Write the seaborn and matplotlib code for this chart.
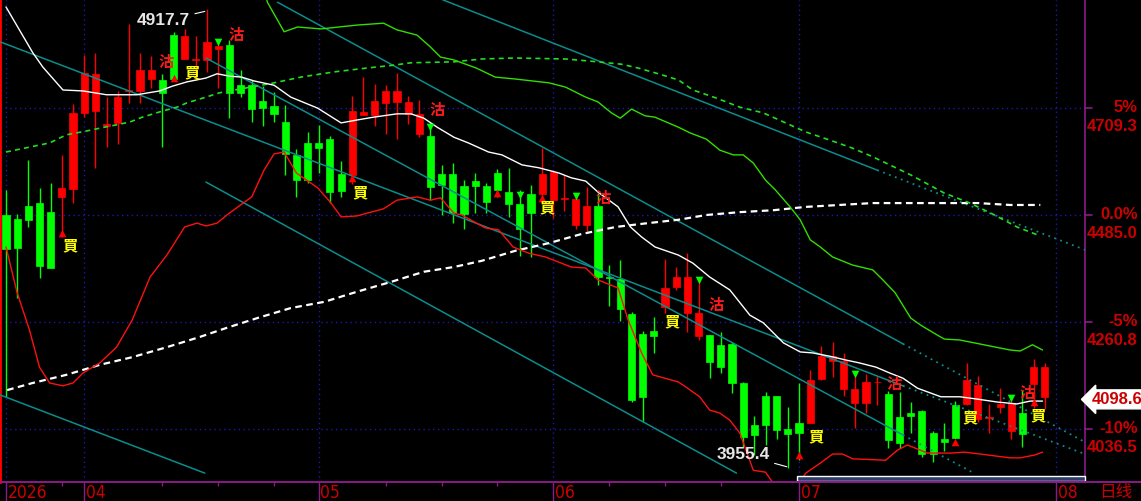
"""
Daily candlestick chart with moving averages, bands, channel lines and signals.
Usage: python plot.py
"""
import matplotlib
matplotlib.use("Agg")
import matplotlib.pyplot as plt
from matplotlib.lines import Line2D
from matplotlib.patches import Rectangle
import seaborn as sns
import numpy as np
import pandas as pd

# ── Candles (OHLC), one per trading day ──────────────────────────────────────
opens = [4485, 4477, 4504, 4510, 4491, 4523, 4539, 4699, 4703, 4672,
         4678, 4745, 4745, 4770, 4768, 4862, 4812, 4809, 4810, 4833,
         4841, 4757, 4757, 4724, 4713, 4680, 4611, 4636, 4636, 4644,
         4571, 4569, 4695, 4695, 4720, 4722, 4697, 4655, 4651, 4571,
         4571, 4546, 4556, 4546, 4573, 4533, 4508, 4529, 4529, 4516,
         4518, 4464, 4464, 4504, 4356, 4351, 4278, 4236, 4242, 4292,
         4334, 4280, 4231, 4233, 4213, 4215, 4133, 4045, 4106, 4106,
         4036, 4049, 4049, 4141, 4179, 4120, 4091, 4091, 4134, 4110,
         4062, 4070, 4074, 4028, 4015, 4087, 4089, 4057, 4059, 4083,
         4032, 4070, 4131, 4104]
highs = [4537, 4487, 4600, 4542, 4552, 4611, 4718, 4820, 4825, 4732,
         4745, 4885, 4825, 4818, 4781, 4869, 4875, 4860, 4917.7, 4854,
         4852, 4789, 4768, 4755, 4743, 4716, 4623, 4659, 4674, 4651,
         4598, 4734, 4774, 4760, 4757, 4783, 4734, 4726, 4678, 4590,
         4594, 4558, 4573, 4552, 4581, 4584, 4537, 4548, 4625, 4575,
         4569, 4531, 4544, 4531, 4380, 4391, 4282, 4242, 4271, 4393,
         4376, 4405, 4349, 4233, 4240, 4219, 4135, 4064, 4114, 4106,
         4083, 4133, 4160, 4210, 4219, 4196, 4154, 4152, 4148, 4116,
         4114, 4093, 4076, 4032, 4049, 4095, 4175, 4148, 4089, 4122,
         4101, 4118, 4183, 4175]
lows = [4104, 4311, 4460, 4353, 4373, 4439, 4510, 4690, 4584, 4628,
        4634, 4720, 4720, 4751, 4628, 4768, 4812, 4768, 4785, 4751,
        4688, 4732, 4680, 4672, 4680, 4569, 4523, 4552, 4573, 4510,
        4523, 4550, 4695, 4672, 4655, 4644, 4676, 4648, 4516, 4485,
        4468, 4456, 4489, 4489, 4523, 4481, 4399, 4397, 4516, 4479,
        4493, 4456, 4451, 4338, 4294, 4263, 4093, 4051, 4196, 4280,
        4328, 4240, 4223, 4143, 4154, 4112, 3999, 3982, 4003, 4015,
        3955.4, 3971, 4049, 4139, 4145, 4106, 4039, 4070, 4087, 3997,
        3997, 4028, 3978, 3967, 3990, 4018, 4087, 4051, 4028, 4070,
        4015, 3999, 4080, 4078]
closes = [4414, 4416, 4475, 4378, 4374, 4542, 4699, 4783, 4781, 4676,
          4732, 4747, 4789, 4789, 4741, 4770, 4860, 4811, 4848, 4839,
          4741, 4741, 4707, 4709, 4697, 4613, 4558, 4558, 4625, 4533,
          4535, 4703, 4701, 4724, 4745, 4745, 4722, 4697, 4544, 4548,
          4489, 4487, 4546, 4512, 4537, 4508, 4456, 4489, 4571, 4575,
          4520, 4519, 4504, 4355, 4354, 4288, 4097, 4104, 4231, 4332,
          4355, 4355, 4280, 4177, 4166, 4133, 4020, 4024, 4045, 4034,
          4026, 4028, 4139, 4189, 4189, 4179, 4120, 4135, 4136, 4013,
          4007, 4064, 3984, 3984, 4009, 4018, 4139, 4129, 4061, 4089,
          4091, 4026, 4166, 4166]
last_price = 4098.6

# ── White moving average ─────────────────────────────────────────────────────
ma_x = [0, 2.4, 3.3, 5.1, 6.9, 9.0, 11.7, 13.75, 14.9, 16.2, 17.9, 18.9, 20.0,
        21.1, 22.2, 24.0, 25.5, 27.9, 30.0, 31.4, 32.9, 35.0, 36.25, 37.4,
        38.6, 40.1, 41.4, 43.2, 44.4, 46.2, 47.7, 49.5, 50.6, 51.9, 53.0,
        54.8, 55.9, 56.9, 58.1, 60.2, 61.5, 63.0, 64.8, 66.6, 67.8, 69.6,
        71.1, 72.2, 73.75, 75.2, 76.4, 77.9, 79.1, 80.3, 81.6, 83.7, 85.4,
        87.0, 88.75, 90.5, 91.7, 92.8]
ma_y = [4921, 4825, 4795, 4747, 4745, 4737, 4737, 4745, 4755, 4764, 4772, 4781,
        4776, 4774, 4766, 4757, 4732, 4709, 4678, 4684, 4690, 4697, 4697, 4688,
        4669, 4648, 4636, 4617, 4611, 4590, 4584, 4573, 4563, 4556, 4533, 4502,
        4460, 4439, 4418, 4401, 4384, 4355, 4328, 4275, 4259, 4217, 4198, 4196,
        4189, 4181, 4175, 4166, 4154, 4143, 4122, 4104, 4104, 4099, 4093, 4089,
        4095, 4095]

# ── Lower band (red) ─────────────────────────────────────────────────────────
low_band_x = [0, 1.0, 2.1, 3.0, 3.9, 5.1, 6.0, 6.9, 8.4, 9.9, 11.3, 12.9, 14.4,
              16.0, 17.1, 17.9, 18.9, 20.0, 22.0, 23.1, 24.0, 24.9, 26.0, 27.9,
              29.1, 30.0, 31.4, 33.8, 35.0, 36.8, 38.0, 38.9, 40.1, 40.8, 42.9,
              44.1, 45.4, 46.8, 48.3, 50.6, 51.9, 53.0, 54.8, 55.7, 56.9, 57.9,
              60.2, 60.9, 62.1, 63.0, 63.9, 64.8, 65.7, 66.9, 68.0, 69.1, 70.6,
              71.6, 72.9, 74.0, 74.9, 75.8, 78.75, 79.8, 80.7, 82.5, 84.6, 85.8,
              87.9, 89.9, 90.8, 92.1, 92.8]
low_band_y = [4418, 4322, 4244, 4166, 4133, 4127, 4133, 4154, 4175, 4208, 4265,
              4355, 4401, 4460, 4468, 4462, 4468, 4489, 4523, 4579, 4613, 4617,
              4573, 4542, 4510, 4481, 4483, 4498, 4516, 4523, 4516, 4521, 4489,
              4485, 4458, 4454, 4418, 4405, 4397, 4376, 4374, 4349, 4332, 4265,
              4196, 4150, 4135, 4124, 4104, 4076, 4070, 4055, 4028, 3950, 3946,
              3909, 3909, 3944, 3965, 3984, 3984, 3974, 3971, 3992, 4003, 3986,
              3986, 3988, 3982, 3976, 3976, 3982, 3988]

# ── Upper band (green) ───────────────────────────────────────────────────────
up_band_x = [22.9, 23.4, 24.9, 26.1, 28.2, 31.4, 33.8, 35.0, 36.8, 38.0, 38.9,
             40.1, 42.1, 43.8, 45.6, 48.6, 50.1, 51.9, 53.0, 54.2, 55.0, 56.0,
             57.2, 58.1, 60.2, 61.25, 62.7, 63.9, 65.1, 66.0, 66.9, 68.0, 68.9,
             70.2, 71.1, 72.0, 72.9, 74.0, 75.8, 77.6, 78.5, 79.6, 81.0, 81.9,
             83.4, 84.0, 85.4, 89.9, 90.8, 91.9, 92.8]
up_band_y = [4978, 4931, 4869, 4879, 4875, 4883, 4887, 4873, 4862, 4837, 4816,
             4810, 4793, 4774, 4770, 4762, 4753, 4732, 4722, 4699, 4688, 4707,
             4693, 4690, 4669, 4657, 4644, 4621, 4611, 4611, 4594, 4558, 4537,
             4502, 4475, 4433, 4418, 4397, 4380, 4370, 4349, 4322, 4269, 4254,
             4233, 4225, 4223, 4202, 4200, 4213, 4202]

# ── Green dashed average ─────────────────────────────────────────────────────
mid_avg_x = [0, 3.9, 5.4, 7.2, 8.4, 9.9, 11.1, 12.2, 13.75, 15.3, 16.2, 17.9,
             19.1, 24.0, 26.4, 29.4, 32.3, 34.7, 36.25, 40.1, 42.6, 45.6, 50.1,
             53.0, 55.1, 56.6, 58.4, 60.2, 61.5, 63.6, 65.7, 67.8, 69.8, 71.6,
             73.75, 75.8, 77.6, 81.0, 84.0, 86.3, 88.5, 90.5, 92.6]
mid_avg_y = [4617, 4636, 4653, 4661, 4667, 4674, 4680, 4690, 4701, 4711, 4720,
             4732, 4741, 4762, 4774, 4785, 4793, 4799, 4804, 4806, 4812, 4814,
             4812, 4806, 4801, 4793, 4781, 4768, 4747, 4730, 4711, 4699, 4678,
             4659, 4642, 4625, 4607, 4569, 4531, 4510, 4485, 4460, 4441]

# ── White dashed average ─────────────────────────────────────────────────────
long_avg_x = [0.1, 2.4, 5.4, 8.4, 11.3, 14.4, 17.3, 19.7, 22.5, 25.5, 28.5,
              31.4, 34.5, 37.4, 40.1, 42.6, 45.6, 48.6, 51.5, 54.6, 57.5, 60.2,
              62.7, 65.7, 68.7, 71.6, 74.6, 77.6, 84.0, 87.0, 89.9, 92.6]
long_avg_y = [4118, 4133, 4150, 4171, 4187, 4208, 4229, 4248, 4269, 4290, 4303,
              4324, 4345, 4366, 4376, 4389, 4410, 4426, 4445, 4460, 4468, 4475,
              4485, 4491, 4495, 4502, 4506, 4510, 4510, 4510, 4506, 4506]

# ── Channel lines: start, solid end, dotted end (index, price) ───────────────
chan_x0 = [-0.54, 24.3, 39.1, 17.9, -0.54, 17.9]
chan_p0 = [4848, 4931, 4936, 4554, 4108, 4814]
chan_xb = [80.3, 80.3, 78.0, 65.4, 17.8, 80.3]
chan_pb = [4127, 4215, 4579, 3944, 3944, 4024]
chan_x1 = [96.6, 96.6, 96.6, 65.4, 17.8, 86.5]
chan_p1 = [3984, 4009, 4412, 3944, 3944, 3946]

# ── Signals ──────────────────────────────────────────────────────────────────
buy_idx = [5, 15, 31, 44, 48, 71, 85, 92]
buy_arrow_p = [4447, 4772, 4563, 4531, 4521, 3982, 4009, 4093]
buy_text_x = [5.7, 16.7, 31.7, 48.4, 59.6, 72.5, 86.3, 92.4]
buy_text_p = [4422, 4783, 4533, 4500, 4263, 4022, 4060, 4066]
sell_idx = [19, 38, 46, 51, 62, 76, 90]
sell_arrow_p = [4848, 4669, 4527, 4525, 4349, 4152, 4101]
sell_text_x = [14.3, 20.6, 38.6, 53.5, 63.6, 79.5, 91.4]
sell_text_p = [4806, 4862, 4705, 4521, 4296, 4131, 4112]

# ── Axes ─────────────────────────────────────────────────────────────────────
month_idx = [0, 7, 28, 49, 71, 94]
month_labels = ["2026", "04", "05", "06", "07", "08"]
week_idx = [5, 14, 19, 24, 34, 39, 44, 54, 59, 64]
price_levels = [4709.3, 4485.0, 4260.8, 4036.5]
pct_labels = ["5%", "0.0%", "-5%", "-10%"]

RED = "#ff0000"
GREEN = "#00ff00"
AXIS_RED = "#cc0000"
PURPLE = "#8a1a8a"
GRID_BLUE = "#1a1ab0"
TEAL = "#0c8c8c"
CJK = ["Noto Sans CJK TC", "DejaVu Sans"]


def main():
    sns.set_theme(style="dark", rc={"axes.facecolor": "black",
                                    "figure.facecolor": "black"})
    plt.rcParams["font.family"] = ["Liberation Sans", "Noto Sans CJK SC", "DejaVu Sans"]

    fig = plt.figure(figsize=(11.41, 5.01), dpi=100)
    ax = fig.add_axes([0, 19 / 501, 1085 / 1141, 482 / 501])
    ax.set_facecolor("black")
    ax.set_xlim(-0.537, 96.6)
    ax.set_ylim(3925.4, 4935.6)

    _draw_grid(ax)
    _draw_channels(ax)
    _draw_candles(ax)
    _draw_averages(ax)
    _draw_signals(ax)
    _draw_axes(fig, ax)

    fig.savefig("out.png", dpi=100, facecolor="black")
    plt.close(fig)


def _draw_grid(ax):
    for lvl in price_levels:
        ax.axhline(lvl, color=GRID_BLUE, lw=1, ls=(0, (1, 2.5)), zorder=0)
    for m in month_idx:
        ax.axvline(m, color=GRID_BLUE, lw=1, ls=(0, (1, 2.5)), zorder=0)


def _draw_channels(ax):
    for x0, p0, xb, pb, x1, p1 in zip(chan_x0, chan_p0, chan_xb, chan_pb, chan_x1, chan_p1):
        ax.plot([x0, xb], [p0, pb], color=TEAL, lw=1.1, zorder=3)
        if x1 > xb:
            ax.plot([xb, x1], [pb, p1], color=TEAL, lw=1.3, ls=(0, (1, 2.5)), zorder=3)


def _draw_candles(ax):
    df = pd.DataFrame({"open": opens, "high": highs, "low": lows, "close": closes})
    df["idx"] = np.arange(len(df))
    df["color"] = np.where(df["close"] >= df["open"], RED, GREEN)
    body_lo = df[["open", "close"]].min(axis=1)
    body_h = (df["close"] - df["open"]).abs().clip(lower=1.5)
    ax.vlines(df["idx"], df["low"], df["high"], colors=df["color"], lw=1.0, zorder=2)
    ax.bar(df["idx"], body_h, bottom=body_lo, width=0.64, color=df["color"],
           edgecolor=df["color"], linewidth=0.5, zorder=2)

    # high / low annotations
    hi_i = int(np.argmax(highs))
    lo_i = int(np.argmin(lows))
    txt = dict(color="#e6e6e6", fontsize=12.5, fontweight="bold", va="center", zorder=6)
    ax.annotate(f"{highs[hi_i]:.1f}", xy=(hi_i - 0.2, highs[hi_i] - 6),
                xytext=(hi_i - 1.5, highs[hi_i] - 26), ha="right",
                arrowprops=dict(arrowstyle="-", color="white", lw=0.8, shrinkA=1, shrinkB=0),
                **txt)
    ax.annotate(f"{lows[lo_i]:.1f}", xy=(lo_i - 0.1, lows[lo_i] + 2),
                xytext=(lo_i - 1.6, lows[lo_i] + 27), ha="right",
                arrowprops=dict(arrowstyle="-", color="white", lw=0.8, shrinkA=1, shrinkB=0),
                **txt)


def _draw_averages(ax):
    sns.lineplot(x=long_avg_x, y=long_avg_y, ax=ax, color="white", lw=1.6,
                 linestyle=(0, (3, 2)), estimator=None, sort=False, zorder=3)
    sns.lineplot(x=mid_avg_x, y=mid_avg_y, ax=ax, color="#22dd22", lw=1.2,
                 linestyle=(0, (3, 2.5)), estimator=None, sort=False, zorder=3)
    sns.lineplot(x=up_band_x, y=up_band_y, ax=ax, color="#33dd00", lw=1.0,
                 estimator=None, sort=False, zorder=3)
    sns.lineplot(x=low_band_x, y=low_band_y, ax=ax, color="#ff1010", lw=1.0,
                 estimator=None, sort=False, zorder=3)
    sns.lineplot(x=ma_x, y=ma_y, ax=ax, color="white", lw=1.0,
                 estimator=None, sort=False, zorder=3)


def _draw_signals(ax):
    ax.scatter(buy_idx, buy_arrow_p, marker="^", s=30, color=RED, zorder=5, linewidths=0)
    ax.scatter(sell_idx, sell_arrow_p, marker="v", s=30, color=GREEN, zorder=5, linewidths=0)
    for x, p in zip(buy_text_x, buy_text_p):
        ax.text(x, p, "買", color="#ffff00", fontsize=11, fontweight="bold",
                ha="center", va="center", family=CJK, zorder=6)
    for x, p in zip(sell_text_x, sell_text_p):
        ax.text(x, p, "沽", color="#ff1a1a", fontsize=11, fontweight="bold",
                ha="center", va="center", family=CJK, zorder=6)


def _draw_axes(fig, ax):
    ax.spines["top"].set_visible(False)
    ax.spines["left"].set_color(RED)
    ax.spines["left"].set_linewidth(2)
    ax.spines["right"].set_color(PURPLE)
    ax.spines["right"].set_linewidth(1.2)
    ax.spines["bottom"].set_visible(False)
    fig.add_artist(Line2D([0, 1], [19 / 501, 19 / 501], color=PURPLE, lw=1.4))

    ax.set_xticks(month_idx)
    ax.set_xticks(week_idx, minor=True)
    ax.set_xticklabels([])
    ax.tick_params(axis="x", which="major", length=14, width=1, color=PURPLE, direction="out", bottom=True)
    ax.tick_params(axis="x", which="minor", length=3, width=1, color=PURPLE, direction="out", bottom=True)
    ax.set_yticks([])

    # month labels sit just right of their tick, baseline near the bottom edge
    xax = ax.get_xaxis_transform()
    for m, lab in zip(month_idx, month_labels):
        ax.text(m + 0.15, -16 / 482, lab, transform=xax, ha="left", va="baseline",
                color=AXIS_RED, fontsize=12.5, family="DejaVu Sans", fontstretch="condensed",
                clip_on=False)
    fig.text(1099 / 1141, 4 / 501, "日线", color=AXIS_RED, fontsize=12,
             family=["Noto Sans CJK SC", "DejaVu Sans"], ha="left", va="baseline")

    yax = ax.get_yaxis_transform()
    for lvl, pct in zip(price_levels, pct_labels):
        ax.plot([1.0, 1.006], [lvl, lvl], transform=yax, color=PURPLE, lw=1.2, clip_on=False)
        ax.text(1.0488, lvl, pct, transform=yax, ha="right", va="center",
                color=AXIS_RED, fontsize=12, fontweight="bold", clip_on=False)
        ax.annotate(f"{lvl:.1f}", xy=(1.0488, lvl), xycoords=yax, xytext=(0, -19),
                    textcoords="offset pixels", ha="right", va="center",
                    color=AXIS_RED, fontsize=12, fontweight="bold", annotation_clip=False)

    ax.text(1.006, last_price, f"{last_price:.1f}", transform=yax, ha="left", va="center",
            color=AXIS_RED, fontsize=12, fontweight="bold", clip_on=False, zorder=7,
            bbox=dict(boxstyle="larrow,pad=0.12", fc="white", ec="white"))

    # scroll bar under July
    ax.add_patch(Rectangle((70.8, 3927.6), 25.8, 10.5, fc="#2c3e66", ec="white",
                           lw=1, zorder=6, clip_on=False))


if __name__ == "__main__":
    main()
